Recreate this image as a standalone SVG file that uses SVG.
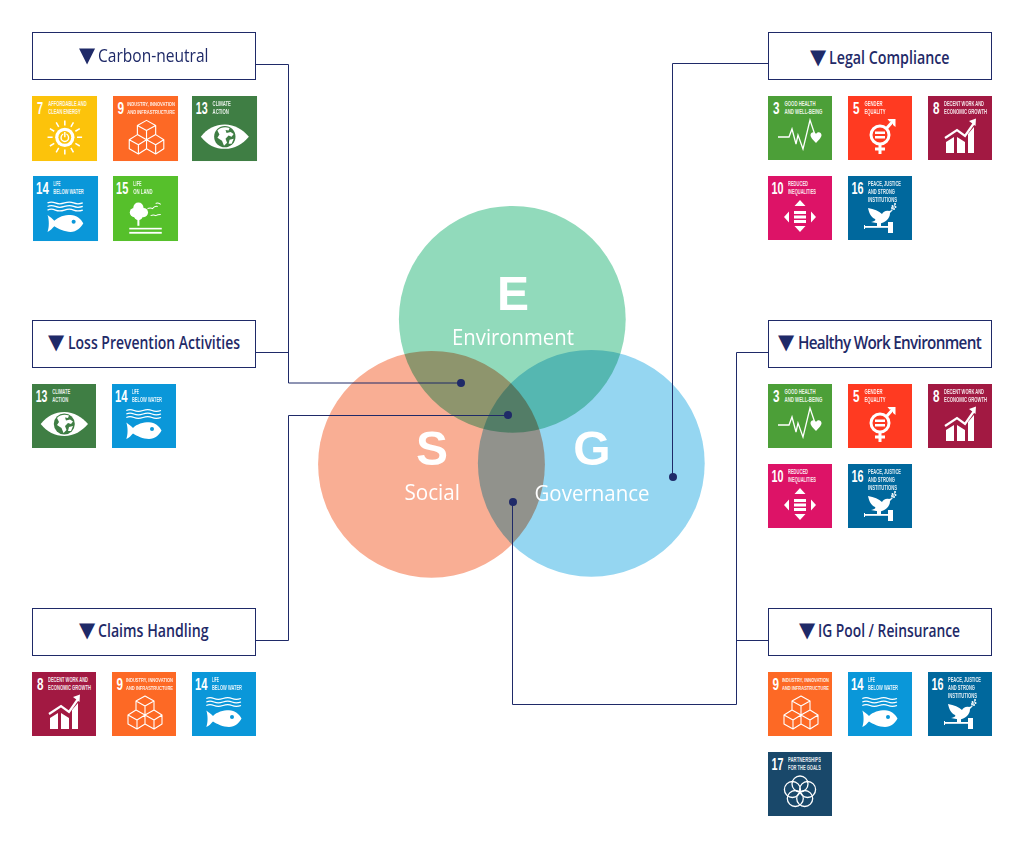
<svg xmlns="http://www.w3.org/2000/svg" width="1024" height="864" viewBox="0 0 1024 864">
<style>
.box{fill:#fff;stroke:#1f2a68;stroke-width:1}
.hd{font-family:"Open Sans","Noto Sans",sans-serif;font-size:18px;font-weight:600;fill:#1f2a68}
.tri{font-family:"DejaVu Sans",sans-serif;font-size:21px}
.gap{font-size:2px}
.con{fill:none;stroke:#1f2a68;stroke-width:1}
.dot{fill:#1f2a68}
.c{mix-blend-mode:multiply}
.big{font-family:"Liberation Sans",Arial,sans-serif;font-weight:700;font-size:48px;fill:#fff;text-anchor:middle}
.sub{font-family:"Open Sans","Noto Sans",sans-serif;font-size:21px;fill:#fff}
.n{font-family:"Liberation Sans Narrow","Liberation Sans",sans-serif;font-weight:700;font-size:17px;fill:#fff}
.t{font-family:"Liberation Sans Narrow","Liberation Sans",sans-serif;font-weight:700;font-size:6.3px;fill:#fff;opacity:.88}
.t9{font-size:5.6px}
.w{fill:#fff}
.ws{fill:none;stroke:#fff;stroke-width:1.3}
</style>
<defs>
<g id="p3"><rect width="64" height="64" fill="#4c9f38"/><polyline class="ws" points="10,41 21,41 24,33 28,48 30,39 35,53 42,24 47,39"/><path class="w" d="M48 47 C44 43 42.500 41 42.500 39 C42.500 36 46.500 35 48 38 C49.500 35 53.500 36 53.500 39 C53.500 41 52 43 48 47Z"/></g>
<g id="p5"><rect width="64" height="64" fill="#ff3a21"/><circle cx="32" cy="39" r="9" fill="none" stroke="#fff" stroke-width="3"/><rect class="w" x="27" y="35.500" width="10" height="2.500"/><rect class="w" x="27" y="40" width="10" height="2.500"/><path class="ws" style="stroke-width:3" d="M32 48V58M27 53H37M38 33L46 24"/><path class="w" d="M39.500 23H47.500V31L45 29V25.500H41.500Z"/></g>
<g id="p7"><rect width="64" height="64" fill="#fcc30b"/><circle cx="32.300" cy="40.700" r="9.500" class="w"/><circle cx="32.300" cy="40.700" r="6.300" fill="#fcc30b"/><circle cx="32.300" cy="41" r="3.700" fill="none" stroke="#fff" stroke-width="1.400"/><path d="M32.300 35V40" stroke="#fcc30b" stroke-width="3"/><path d="M32.300 35.500V40.500" stroke="#fff" stroke-width="1.400"/><path class="ws" style="stroke-width:1.500" d="M32.300 24V29M40.800 26L38.300 30.300M47 32.200L42.700 34.700M49.300 40.700H44.300M47 49.200L42.700 46.700M40.800 55.400L38.300 51.100M32.300 57.700V52.700M23.800 55.400L26.300 51.100M17.600 49.200L21.900 46.700M15.300 40.700H20.300M17.600 32.200L21.900 34.700M23.800 26L26.300 30.300"/></g>
<g id="p8"><rect width="64" height="64" fill="#a21942"/><path class="w" d="M18 46L26 41V57H18ZM29 41L37 46V57H29ZM40 38L46 31V57H40Z"/><path class="ws" style="stroke-width:2.200" d="M17 42L29 34L37 40L46 27"/><path class="w" d="M41 25L48 22.500L47.500 30Z"/></g>
<g id="p9"><rect width="64" height="64" fill="#fd6925"/><path class="ws" style="stroke-width:1.100" d="M33 24L42 29V38L33 43L24 38V29ZM24 29L33 34L42 29M33 34V43M24 38L16 43V52L25 57L33 52V43M16 43L25 48L33 43M25 48V57M42 38L50 43V52L42 57L33 52M33 43L42 48L50 43M42 48V57" stroke-linejoin="round"/></g>
<g id="p10"><rect width="64" height="64" fill="#dd1367"/><path class="w" d="M32 24L37.500 30H26.500ZM32 56L26.500 50H37.500ZM16 41L21 35.500V46.500ZM48 41L43 35.500V46.500Z"/><rect class="w" x="26" y="35" width="12" height="3"/><rect class="w" x="26" y="39.500" width="12" height="3"/><rect class="w" x="26" y="44" width="12" height="3"/></g>
<g id="p13"><rect width="64" height="64" fill="#3f7e44"/><path class="w" d="M8.700 40C15 32 23 28 32.300 28C42 28 50 33 56 40C50 47 42 52 32.300 52C23 52 15 48 8.700 40Z"/><circle cx="32.300" cy="40" r="10.500" fill="#3f7e44"/><path class="w" d="M25 34C28 30.500 33 30 37 31.500L36 34L33 33.500L34 36.500L38 35.500L41 37.500L39 40L36 39L33 42L34.500 46L31.500 49L29.500 44L25 41L27 38ZM37 43L41 42L39 47L36 47Z"/></g>
<g id="p14"><rect width="64" height="64" fill="#0a97d9"/><path class="ws" style="stroke-width:1.300" d="M14.300 26.500Q18 24.800 22 26.500T31 26.500T40 26.500T49 26.500M14.300 30Q18 28.300 22 30T31 30T40 30T49 30M14.300 33.500Q18 31.800 22 33.500T31 33.500T40 33.500T49 33.500"/><path class="w" d="M14.300 38.500C17 40.500 19 42 21 44C25 40 31 38.300 37 38.300C43 38.300 47 42 49.500 46.500C47 51 43 55 37 55C31 55 25 52 21 49.500C19 51.500 17 54 14.300 55C16 51 16 43 14.300 38.500Z"/><circle cx="40" cy="45" r="2" fill="#0a97d9"/></g>
<g id="p15"><rect width="64" height="64" fill="#56c02b"/><circle cx="25" cy="31" r="5" class="w"/><circle cx="21" cy="36" r="4.500" class="w"/><circle cx="30" cy="36" r="4.500" class="w"/><circle cx="25" cy="39" r="4.500" class="w"/><rect class="w" x="24" y="43" width="2" height="6"/><rect class="w" x="16" y="51" width="32" height="1.600"/><rect class="w" x="16" y="55" width="32" height="1.800"/><path class="ws" style="stroke-width:1" d="M34 32Q37 31 39 32Q41 29 44 30M42 27Q44 26 47 28M37 39Q40 38 42 39Q44 38 47 38"/></g>
<g id="p16"><rect width="64" height="64" fill="#00689d"/><path class="w" d="M20 32C26 33 31 35 34 38C35 36 38 34 41 35L45 34L42 37C42 43 37 47 31 47.500L23 46C27 45 28 44 27 43C23 41 21 37 20 32Z"/><path class="ws" style="stroke-width:.8" d="M43 35L47 29"/><circle cx="44" cy="32" r="1" class="w"/><circle cx="46" cy="33" r="1" class="w"/><circle cx="44.500" cy="30" r="1" class="w"/><circle cx="47.500" cy="31" r="1" class="w"/><circle cx="47" cy="28" r="1" class="w"/><rect class="w" x="29" y="47" width="4" height="4"/><rect class="w" x="16" y="50" width="24" height="1.800"/><rect class="w" x="16" y="49" width="1" height="4"/><rect class="w" x="40" y="46" width="5" height="11"/></g>
<g id="p17"><rect width="64" height="64" fill="#19486a"/><g fill="none" stroke="#fff" stroke-width="1.300"><circle cx="32" cy="32" r="8"/><circle cx="39.600" cy="37.500" r="8"/><circle cx="36.700" cy="46.500" r="8"/><circle cx="27.300" cy="46.500" r="8"/><circle cx="24.400" cy="37.500" r="8"/></g></g>
</defs>

<g id="venn">
<g style="isolation:isolate">
<circle class="c" cx="512.300" cy="319.300" r="113.400" fill="#91dabb"/>
<circle class="c" cx="431.500" cy="464.300" r="113.400" fill="#f9ae94"/>
<circle class="c" cx="591.300" cy="463.300" r="113.400" fill="#95d6f1"/>
</g>
<text class="big" x="513" y="310">E</text>
<text class="sub" x="452" y="345" textLength="122" lengthAdjust="spacingAndGlyphs">Environment</text>
<text class="big" x="432" y="464.500">S</text>
<text class="sub" x="404.500" y="500" textLength="55.500" lengthAdjust="spacingAndGlyphs">Social</text>
<text class="big" x="592" y="464.500">G</text>
<text class="sub" x="534.500" y="501" textLength="115" lengthAdjust="spacingAndGlyphs">Governance</text>
</g>

<g id="connectors">
<path class="con" d="M256 64.500H288.500V383H461M256 352.500H288.500"/>
<path class="con" d="M256 640.500H288.500V415.500H507.500"/>
<path class="con" d="M768 63.500H672.500V477"/>
<path class="con" d="M768 352.500H736.500V704.500H512.500V502"/>
<path class="con" d="M768 640.500H736.500"/>
<circle class="dot" cx="461" cy="383" r="4"/>
<circle class="dot" cx="508" cy="415" r="4"/>
<circle class="dot" cx="673" cy="477" r="4"/>
<circle class="dot" cx="513" cy="502" r="4"/>
</g>

<g id="carbon-neutral">
<rect class="box" x="32.500" y="32.500" width="223" height="47"/>
<text class="hd" y="62" style="font-weight:500"><tspan class="tri" x="79">▼</tspan><tspan class="gap"> </tspan><tspan x="98" textLength="110.500" lengthAdjust="spacingAndGlyphs">Carbon-neutral</tspan></text>
<g id="cn-7" transform="translate(32 96) scale(1.016)"><use href="#p7"/><text class="n" x="5" y="18" textLength="6" lengthAdjust="spacingAndGlyphs">7</text><text class="t" x="16" y="10" textLength="38" lengthAdjust="spacingAndGlyphs">AFFORDABLE AND</text><text class="t" x="16" y="18" textLength="32" lengthAdjust="spacingAndGlyphs">CLEAN ENERGY</text></g>
<g id="cn-9" transform="translate(113 96) scale(1.016)"><use href="#p9"/><text class="n" x="4.500" y="18" textLength="6.500" lengthAdjust="spacingAndGlyphs">9</text><text class="t t9" x="14" y="10" textLength="47" lengthAdjust="spacingAndGlyphs">INDUSTRY, INNOVATION</text><text class="t t9" x="14" y="18" textLength="47" lengthAdjust="spacingAndGlyphs">AND INFRASTRUCTURE</text></g>
<g id="cn-13" transform="translate(192 96) scale(1.016)"><use href="#p13"/><text class="n" x="3.700" y="18" textLength="11.700" lengthAdjust="spacingAndGlyphs">13</text><text class="t" x="20.300" y="10" textLength="18" lengthAdjust="spacingAndGlyphs">CLIMATE</text><text class="t" x="20.300" y="18" textLength="16" lengthAdjust="spacingAndGlyphs">ACTION</text></g>
<g id="cn-14" transform="translate(33 176) scale(1.016)"><use href="#p14"/><text class="n" x="3" y="18" textLength="12.500" lengthAdjust="spacingAndGlyphs">14</text><text class="t" x="20" y="10" textLength="7" lengthAdjust="spacingAndGlyphs">LIFE</text><text class="t" x="20" y="18" textLength="30" lengthAdjust="spacingAndGlyphs">BELOW WATER</text></g>
<g id="cn-15" transform="translate(113 176) scale(1.016)"><use href="#p15"/><text class="n" x="3" y="18" textLength="12" lengthAdjust="spacingAndGlyphs">15</text><text class="t" x="20" y="10" textLength="8" lengthAdjust="spacingAndGlyphs">LIFE</text><text class="t" x="20" y="18" textLength="19" lengthAdjust="spacingAndGlyphs">ON LAND</text></g>
</g>

<g id="loss-prevention">
<rect class="box" x="32.500" y="320.500" width="223" height="47"/>
<text class="hd" y="349"><tspan class="tri" x="48">▼</tspan><tspan class="gap"> </tspan><tspan x="68" textLength="172" lengthAdjust="spacingAndGlyphs">Loss Prevention Activities</tspan></text>
<g id="lp-13" transform="translate(32 384)"><use href="#p13"/><text class="n" x="3.700" y="18" textLength="11.700" lengthAdjust="spacingAndGlyphs">13</text><text class="t" x="20.300" y="10" textLength="18" lengthAdjust="spacingAndGlyphs">CLIMATE</text><text class="t" x="20.300" y="18" textLength="16" lengthAdjust="spacingAndGlyphs">ACTION</text></g>
<g id="lp-14" transform="translate(112 384)"><use href="#p14"/><text class="n" x="3" y="18" textLength="12.500" lengthAdjust="spacingAndGlyphs">14</text><text class="t" x="20" y="10" textLength="7" lengthAdjust="spacingAndGlyphs">LIFE</text><text class="t" x="20" y="18" textLength="30" lengthAdjust="spacingAndGlyphs">BELOW WATER</text></g>
</g>

<g id="claims-handling">
<rect class="box" x="32.500" y="608.500" width="223" height="47"/>
<text class="hd" y="637"><tspan class="tri" x="79">▼</tspan><tspan class="gap"> </tspan><tspan x="98" textLength="110.500" lengthAdjust="spacingAndGlyphs">Claims Handling</tspan></text>
<g id="ch-8" transform="translate(32 672)"><use href="#p8"/><text class="n" x="5" y="18" textLength="6.500" lengthAdjust="spacingAndGlyphs">8</text><text class="t" x="16" y="10" textLength="40" lengthAdjust="spacingAndGlyphs">DECENT WORK AND</text><text class="t" x="16" y="18" textLength="43" lengthAdjust="spacingAndGlyphs">ECONOMIC GROWTH</text></g>
<g id="ch-9" transform="translate(112 672)"><use href="#p9"/><text class="n" x="4.500" y="18" textLength="6.500" lengthAdjust="spacingAndGlyphs">9</text><text class="t t9" x="14" y="10" textLength="47" lengthAdjust="spacingAndGlyphs">INDUSTRY, INNOVATION</text><text class="t t9" x="14" y="18" textLength="47" lengthAdjust="spacingAndGlyphs">AND INFRASTRUCTURE</text></g>
<g id="ch-14" transform="translate(192 672)"><use href="#p14"/><text class="n" x="3" y="18" textLength="12.500" lengthAdjust="spacingAndGlyphs">14</text><text class="t" x="20" y="10" textLength="7" lengthAdjust="spacingAndGlyphs">LIFE</text><text class="t" x="20" y="18" textLength="30" lengthAdjust="spacingAndGlyphs">BELOW WATER</text></g>
</g>

<g id="legal-compliance">
<rect class="box" x="768.500" y="32.500" width="223" height="47"/>
<text class="hd" y="64"><tspan class="tri" x="810">▼</tspan><tspan class="gap"> </tspan><tspan x="829" textLength="120.500" lengthAdjust="spacingAndGlyphs">Legal Compliance</tspan></text>
<g id="lc-3" transform="translate(768 96)"><use href="#p3"/><text class="n" x="5" y="18" textLength="6.500" lengthAdjust="spacingAndGlyphs">3</text><text class="t" x="16.500" y="10" textLength="31" lengthAdjust="spacingAndGlyphs">GOOD HEALTH</text><text class="t" x="16.500" y="18" textLength="38" lengthAdjust="spacingAndGlyphs">AND WELL-BEING</text></g>
<g id="lc-5" transform="translate(848 96)"><use href="#p5"/><text class="n" x="5" y="18" textLength="6.500" lengthAdjust="spacingAndGlyphs">5</text><text class="t" x="16.500" y="10" textLength="18" lengthAdjust="spacingAndGlyphs">GENDER</text><text class="t" x="16.500" y="18" textLength="21" lengthAdjust="spacingAndGlyphs">EQUALITY</text></g>
<g id="lc-8" transform="translate(928 96)"><use href="#p8"/><text class="n" x="5" y="18" textLength="6.500" lengthAdjust="spacingAndGlyphs">8</text><text class="t" x="16" y="10" textLength="40" lengthAdjust="spacingAndGlyphs">DECENT WORK AND</text><text class="t" x="16" y="18" textLength="43" lengthAdjust="spacingAndGlyphs">ECONOMIC GROWTH</text></g>
<g id="lc-10" transform="translate(768 176)"><use href="#p10"/><text class="n" x="3.500" y="18" textLength="12" lengthAdjust="spacingAndGlyphs">10</text><text class="t" x="20" y="10" textLength="20" lengthAdjust="spacingAndGlyphs">REDUCED</text><text class="t" x="20" y="18" textLength="28" lengthAdjust="spacingAndGlyphs">INEQUALITIES</text></g>
<g id="lc-16" transform="translate(848 176)"><use href="#p16"/><text class="n" x="3.500" y="18" textLength="12" lengthAdjust="spacingAndGlyphs">16</text><text class="t" x="20" y="10" textLength="33" lengthAdjust="spacingAndGlyphs">PEACE, JUSTICE</text><text class="t" x="20" y="18" textLength="27" lengthAdjust="spacingAndGlyphs">AND STRONG</text><text class="t" x="20" y="26" textLength="29" lengthAdjust="spacingAndGlyphs">INSTITUTIONS</text></g>
</g>

<g id="healthy-work">
<rect class="box" x="768.500" y="320.500" width="223" height="47"/>
<text class="hd" y="349"><tspan class="tri" x="778">▼</tspan><tspan class="gap"> </tspan><tspan x="798" textLength="183" lengthAdjust="spacingAndGlyphs" style="letter-spacing:-.8px">Healthy Work Environment</tspan></text>
<g id="hw-3" transform="translate(768 384)"><use href="#p3"/><text class="n" x="5" y="18" textLength="6.500" lengthAdjust="spacingAndGlyphs">3</text><text class="t" x="16.500" y="10" textLength="31" lengthAdjust="spacingAndGlyphs">GOOD HEALTH</text><text class="t" x="16.500" y="18" textLength="38" lengthAdjust="spacingAndGlyphs">AND WELL-BEING</text></g>
<g id="hw-5" transform="translate(848 384)"><use href="#p5"/><text class="n" x="5" y="18" textLength="6.500" lengthAdjust="spacingAndGlyphs">5</text><text class="t" x="16.500" y="10" textLength="18" lengthAdjust="spacingAndGlyphs">GENDER</text><text class="t" x="16.500" y="18" textLength="21" lengthAdjust="spacingAndGlyphs">EQUALITY</text></g>
<g id="hw-8" transform="translate(928 384)"><use href="#p8"/><text class="n" x="5" y="18" textLength="6.500" lengthAdjust="spacingAndGlyphs">8</text><text class="t" x="16" y="10" textLength="40" lengthAdjust="spacingAndGlyphs">DECENT WORK AND</text><text class="t" x="16" y="18" textLength="43" lengthAdjust="spacingAndGlyphs">ECONOMIC GROWTH</text></g>
<g id="hw-10" transform="translate(768 464)"><use href="#p10"/><text class="n" x="3.500" y="18" textLength="12" lengthAdjust="spacingAndGlyphs">10</text><text class="t" x="20" y="10" textLength="20" lengthAdjust="spacingAndGlyphs">REDUCED</text><text class="t" x="20" y="18" textLength="28" lengthAdjust="spacingAndGlyphs">INEQUALITIES</text></g>
<g id="hw-16" transform="translate(848 464)"><use href="#p16"/><text class="n" x="3.500" y="18" textLength="12" lengthAdjust="spacingAndGlyphs">16</text><text class="t" x="20" y="10" textLength="33" lengthAdjust="spacingAndGlyphs">PEACE, JUSTICE</text><text class="t" x="20" y="18" textLength="27" lengthAdjust="spacingAndGlyphs">AND STRONG</text><text class="t" x="20" y="26" textLength="29" lengthAdjust="spacingAndGlyphs">INSTITUTIONS</text></g>
</g>

<g id="ig-pool">
<rect class="box" x="768.500" y="608.500" width="223" height="47"/>
<text class="hd" y="637"><tspan class="tri" x="799">▼</tspan><tspan class="gap"> </tspan><tspan x="818" textLength="142" lengthAdjust="spacingAndGlyphs">IG Pool / Reinsurance</tspan></text>
<g id="ig-9" transform="translate(768 672)"><use href="#p9"/><text class="n" x="4.500" y="18" textLength="6.500" lengthAdjust="spacingAndGlyphs">9</text><text class="t t9" x="14" y="10" textLength="47" lengthAdjust="spacingAndGlyphs">INDUSTRY, INNOVATION</text><text class="t t9" x="14" y="18" textLength="47" lengthAdjust="spacingAndGlyphs">AND INFRASTRUCTURE</text></g>
<g id="ig-14" transform="translate(848 672)"><use href="#p14"/><text class="n" x="3" y="18" textLength="12.500" lengthAdjust="spacingAndGlyphs">14</text><text class="t" x="20" y="10" textLength="7" lengthAdjust="spacingAndGlyphs">LIFE</text><text class="t" x="20" y="18" textLength="30" lengthAdjust="spacingAndGlyphs">BELOW WATER</text></g>
<g id="ig-16" transform="translate(928 672)"><use href="#p16"/><text class="n" x="3.500" y="18" textLength="12" lengthAdjust="spacingAndGlyphs">16</text><text class="t" x="20" y="10" textLength="33" lengthAdjust="spacingAndGlyphs">PEACE, JUSTICE</text><text class="t" x="20" y="18" textLength="27" lengthAdjust="spacingAndGlyphs">AND STRONG</text><text class="t" x="20" y="26" textLength="29" lengthAdjust="spacingAndGlyphs">INSTITUTIONS</text></g>
<g id="ig-17" transform="translate(768 752)"><use href="#p17"/><text class="n" x="3.500" y="18" textLength="12" lengthAdjust="spacingAndGlyphs">17</text><text class="t" x="20" y="10" textLength="33" lengthAdjust="spacingAndGlyphs">PARTNERSHIPS</text><text class="t" x="20" y="18" textLength="33" lengthAdjust="spacingAndGlyphs">FOR THE GOALS</text></g>
</g>
</svg>
